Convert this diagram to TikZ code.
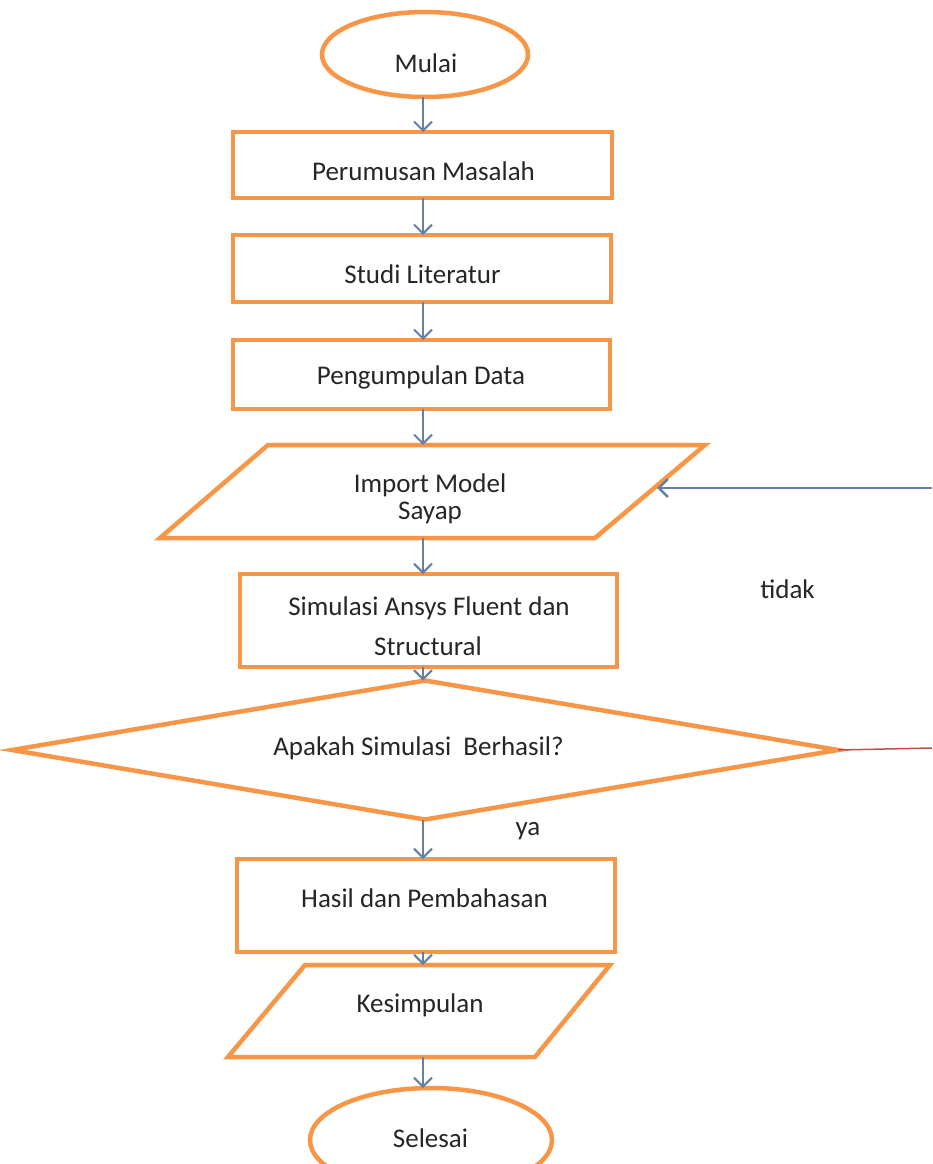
\documentclass[tikz,border=0pt]{standalone}
\usepackage{fontspec}
\setmainfont{Carlito}
\usetikzlibrary{shapes.geometric,arrows.meta}
\definecolor{orng}{HTML}{F79646}
\definecolor{arrc}{HTML}{6480A5}
\definecolor{redl}{HTML}{C0504D}
\begin{document}
\begin{tikzpicture}[x=1pt,y=-1pt,
  font=\fontsize{27}{33}\selectfont,
  shp/.style={draw=orng, line width=4.5pt, fill=white, inner sep=0pt, outer sep=0pt},
  boxs/.style={shp, rectangle},
  term/.style={shp, ellipse},
  parab/.style={draw=orng, line width=4.5pt, fill=white, line join=miter},
  area/.style={inner sep=0pt, outer sep=0pt, rectangle},
  dec/.style={shp, diamond},
  txt/.style={anchor=base, inner sep=0pt, text=black!85},
  arr/.style={draw=arrc, line width=2pt, -{Straight Barb[length=9pt,width=18pt]}},
]
\clip (0,0) rectangle (932,1164);
\fill[white] (0,0) rectangle (932,1164);
\coordinate (ax) at (423,0);

% shapes
\node[term, minimum width=206pt, minimum height=85pt] (mulai) at (425,54.5) {};
\node[boxs, minimum width=379pt, minimum height=66pt] (b1) at (422.5,165) {};
\node[boxs, minimum width=378pt, minimum height=67pt] (b2) at (422,268.5) {};
\node[boxs, minimum width=377pt, minimum height=69pt] (b3) at (421.5,374.5) {};
\draw[parab] (268,445) -- (705,445) -- (595,538) -- (160,538) -- cycle;
\node[area, minimum width=545pt, minimum height=93pt] (imp) at (432.5,491.5) {};
\node[boxs, minimum width=377pt, minimum height=93pt] (sim) at (428.5,620.5) {};
\node[dec, minimum width=826pt, minimum height=139pt] (ask) at (425,750) {};
\node[boxs, minimum width=378pt, minimum height=93pt] (has) at (426,905.5) {};
\draw[parab] (305,965) -- (610,965) -- (535,1057) -- (228,1057) -- cycle;
\node[area, minimum width=382pt, minimum height=92pt] (kes) at (419,1011) {};
\node[term, minimum width=242pt, minimum height=104pt] (sel) at (431,1140) {};

% texts
\node[txt] (tmulai) at (426,73) {Mulai};
\node[txt] (t1) at (423.5,180) {Perumusan Masalah};
\node[txt] (t2) at (422.5,283) {Studi Literatur};
\node[txt] (t3) at (421,384) {Pengumpulan Data};
\node[txt] (timp1) at (430,492) {Import Model};
\node[txt] (timp2) at (430,519) {Sayap};
\node[txt] (tsim1) at (429,615) {Simulasi Ansys Fluent dan};
\node[txt] (tsim2) at (428,655) {Structural};
\node[txt] (task) at (418.5,755) {Apakah Simulasi\ \ Berhasil?};
\node[txt] (thas) at (424.5,907) {Hasil dan Pembahasan};
\node[txt] (tkes) at (420,1012) {Kesimpulan};
\node[txt] (tsel) at (430.5,1147) {Selesai};
\node[txt] (tya) at (528,835) {ya};
\node[txt] (ttidak) at (787.5,598) {tidak};

% connectors
\draw[arr] (mulai.south -| ax) -- (b1.north -| ax);
\draw[arr] (b1.south -| ax) -- (b2.north -| ax);
\draw[arr] (b2.south -| ax) -- (b3.north -| ax);
\draw[arr] (b3.south -| ax) -- (imp.north -| ax);
\draw[arr] (imp.south -| ax) -- (sim.north -| ax);
\draw[arr] (sim.south -| ax) -- (ask.north -| ax);
\draw[arr] (ask.south -| ax) -- (has.north -| ax);
\draw[arr] (has.south -| ax) -- (kes.north -| ax);
\draw[arr] (kes.south -| ax) -- (sel.north -| ax);

% feedback (tidak)
\coordinate (fr) at (932,748);
\coordinate (fi) at (932,488);
\coordinate (fe) at (657,488);
\draw[redl, line width=1.5pt] (ask.east) -- (fr);
\draw[arr, line width=2.5pt] (fi) -- (fe);
\end{tikzpicture}
\end{document}
